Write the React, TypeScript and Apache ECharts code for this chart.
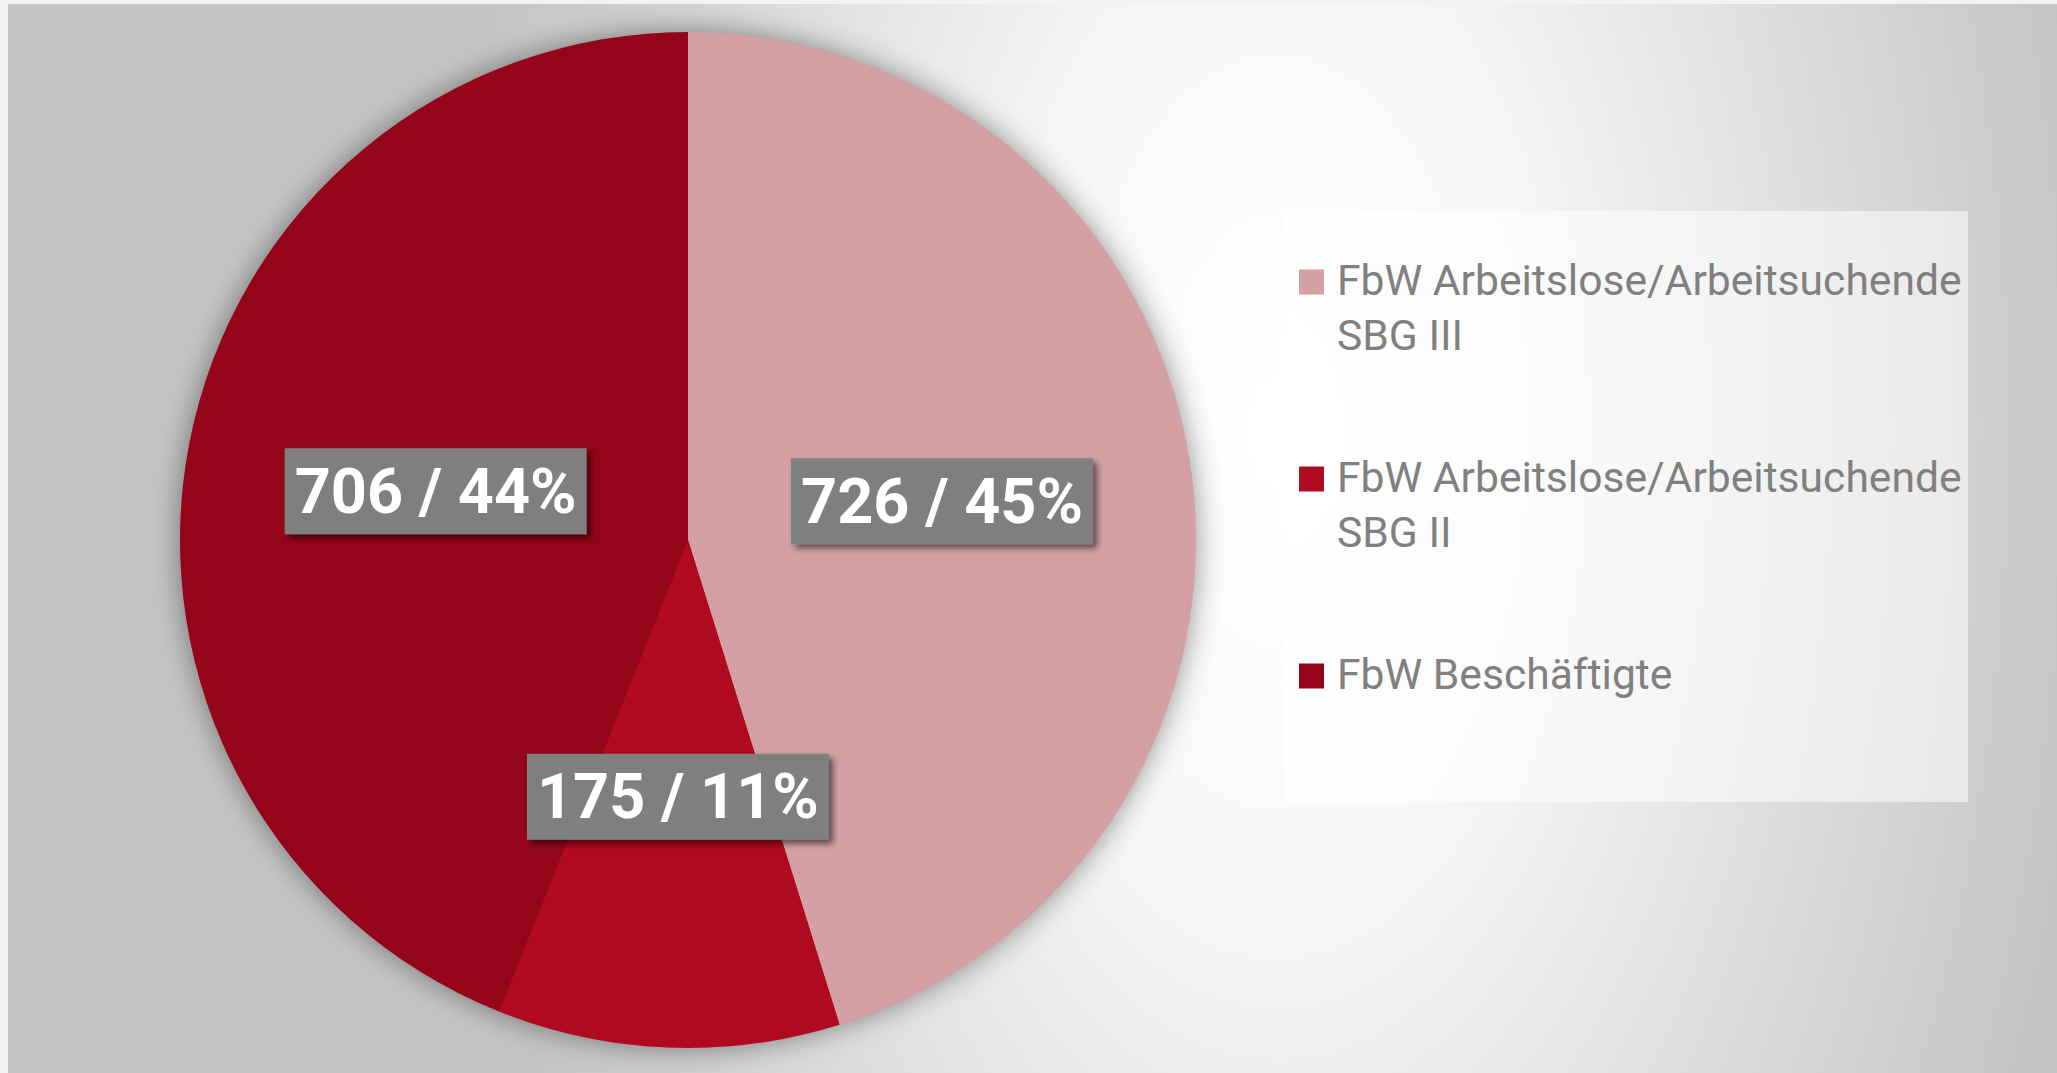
import React, { useEffect, useRef } from "react";
import * as echarts from "echarts";

const categories = [
  "FbW Arbeitslose/Arbeitsuchende\nSBG III",
  "FbW Arbeitslose/Arbeitsuchende\nSBG II",
  "FbW Beschäftigte",
];
const values = [726, 175, 706];
const colors = ["#D4A0A4", "#B00A20", "#940519"];

const W = 2057;
const H = 1073;

export default function App() {
  const ref = useRef<HTMLDivElement>(null);

  useEffect(() => {
    document.body.style.overflow = "hidden";
    const chart = echarts.init(ref.current!, null, { renderer: "svg" });

    const legendEls: any[] = [
      {
        type: "rect",
        shape: { x: 1283, y: 211, width: 685, height: 591 },
        style: { fill: "rgba(255,255,255,0.55)" },
        silent: true,
      },
    ];
    const itemTop = [282, 479, 676];
    categories.forEach((name, i) => {
      const y0 = itemTop[i];
      legendEls.push({
        type: "rect",
        shape: { x: 1299, y: y0 - 12.5, width: 25, height: 25 },
        style: { fill: colors[i] },
        silent: true,
      });
      name.split("\n").forEach((line, j) => {
        legendEls.push({
          type: "text",
          x: 1337,
          y: y0 - 2 + j * 55,
          style: {
            text: line,
            fill: "#808080",
            fontFamily: "Roboto",
            fontSize: 42.6,
            textAlign: "left",
            verticalAlign: "middle",
          },
          silent: true,
        });
      });
    });

    chart.setOption({
      animation: false,
      backgroundColor: "transparent",
      textStyle: { fontFamily: "Roboto" },
      graphic: legendEls,
      series: [
        {
          type: "pie",
          silent: true,
          center: [688, 540],
          radius: 507,
          label: { show: false },
          labelLine: { show: false },
          itemStyle: {
            color: "#9a0a1e",
            shadowBlur: 30,
            shadowColor: "rgba(0,0,0,0.45)",
          },
          data: [{ value: 1, name: "_shadow" }],
          z: 1,
        },
        {
          type: "pie",
          center: [688, 540],
          radius: 508,
          startAngle: 90,
          clockwise: true,
          z: 2,
          itemStyle: { borderWidth: 0 },
          labelLine: { show: false },
          label: {
            show: true,
            position: "inside",
            formatter: (p: any) => `${p.value} / ${Math.round(p.percent)}%`,
            color: "#ffffff",
            fontFamily: "Roboto",
            fontWeight: "bold",
            fontSize: 63,
            lineHeight: 64,
            backgroundColor: "#7f7f7f",
            padding: [11, 10, 11, 10],
            shadowColor: "rgba(0,0,0,0.55)",
            shadowBlur: 6,
            shadowOffsetX: 4,
            shadowOffsetY: 4,
          },
          data: values.map((v, i) => ({
            value: v,
            name: categories[i],
            itemStyle: { color: colors[i] },
          })),
        },
      ],
    });
    return () => chart.dispose();
  }, []);

  return (
    <div
      style={{
        position: "absolute",
        left: 0,
        top: 0,
        width: W,
        height: H,
        background: "#f2f3f5",
      }}
    >
      <div
        style={{
          position: "absolute",
          left: 8,
          top: 4,
          width: W - 8,
          height: H - 4,
          background:
            "radial-gradient(ellipse 40% 140% at 62% 40%, #ffffff 0%, #f8f8f8 30%, #c4c4c4 100%)",
        }}
      />
      <div
        ref={ref}
        style={{ position: "absolute", left: 0, top: 0, width: W, height: H }}
      />
    </div>
  );
}
